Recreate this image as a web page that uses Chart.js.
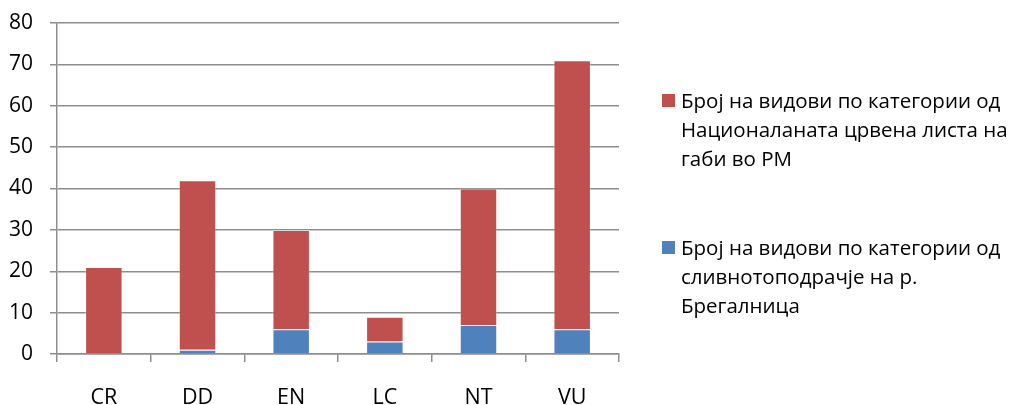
<!DOCTYPE html>
<html>
<head>
<meta charset="utf-8">
<script src="https://cdn.jsdelivr.net/npm/chart.js@4"></script>
<style>
    html, body { margin: 0; padding: 0; background: #fff; }
    #wrap { position: relative; width: 1011px; height: 405px; }
    #chart { position: absolute; left: 0; top: 0; }
    .legend-item { position: absolute; left: 662px; font-family: "Open Sans", sans-serif; font-size: 20.5px; line-height: 29px; color: #000; }
    .legend-item .box { position: absolute; left: 0; top: 8px; width: 13px; height: 13px; }
    .legend-item .txt { position: absolute; left: 19px; top: 0; white-space: nowrap; }
</style>
</head>
<body>
<div id="wrap">
    <canvas id="chart" width="1011" height="405"></canvas>
    <div class="legend-item" id="legRed" style="top: 86px;"><span class="box"></span><span class="txt"></span></div>
    <div class="legend-item" id="legBlue" style="top: 233px;"><span class="box"></span><span class="txt"></span></div>
</div>
<script>
// Categories of the red list
const categories = ['CR', 'DD', 'EN', 'LC', 'NT', 'VU'];

// Species counts per category (Bregalnica basin, stacked at the bottom)
const bregalnicaCounts = [0, 1, 6, 3, 7, 6];
// National red list segment stacked on top
const nationalCounts = [21, 41, 24, 6, 33, 65];

const yTicks = [0, 10, 20, 30, 40, 50, 60, 70, 80];

const nationalLabel = ['Број на видови по категории од', 'Националаната црвена листа на', 'габи во РМ'];
const bregalnicaLabel = ['Број на видови по категории од', 'сливнотоподрачје на р.', 'Брегалница'];

const RED = '#C0504D';
const BLUE = '#4F81BD';
const GRID = '#8e8e8e';

// HTML legend (multi-line labels)
function fillLegend(id, color, lines) {
    const el = document.getElementById(id);
    el.querySelector('.box').style.background = color;
    el.querySelector('.txt').innerHTML = lines.join('<br>');
}
fillLegend('legRed', RED, nationalLabel);
fillLegend('legBlue', BLUE, bregalnicaLabel);

const ctx = document.getElementById('chart');
new Chart(ctx, {
    type: 'bar',
    data: {
        labels: categories,
        datasets: [
            {
                label: bregalnicaLabel.join(' '),
                data: bregalnicaCounts,
                backgroundColor: BLUE,
                borderColor: 'rgba(255,255,255,0.3)',
                borderWidth: 1,
                barPercentage: 0.4,
                categoryPercentage: 1
            },
            {
                label: nationalLabel.join(' '),
                data: nationalCounts,
                backgroundColor: RED,
                borderColor: 'rgba(255,255,255,0.3)',
                borderWidth: 1,
                barPercentage: 0.4,
                categoryPercentage: 1
            }
        ]
    },
    options: {
        responsive: false,
        animation: false,
        layout: {
            padding: { top: 23, right: 392, left: 0, bottom: 0 }
        },
        plugins: {
            legend: { display: false },
            tooltip: { enabled: false }
        },
        scales: {
            x: {
                stacked: true,
                grid: {
                    offset: true,
                    drawOnChartArea: false,
                    drawTicks: true,
                    tickLength: 8,
                    color: GRID,
                    lineWidth: 1.5
                },
                border: { color: GRID, width: 1.5 },
                ticks: {
                    color: '#000',
                    padding: 23,
                    font: { family: 'Open Sans', size: 21.5 }
                },
                afterFit: function(scale) {
                    scale.height = 51;
                    scale.paddingLeft = 0;
                    scale.paddingRight = 0;
                }
            },
            y: {
                stacked: true,
                min: 0,
                max: 80,
                afterBuildTicks: function(scale) {
                    scale.ticks = yTicks.map(v => ({ value: v }));
                },
                grid: {
                    color: GRID,
                    lineWidth: 1.5,
                    drawTicks: true,
                    tickLength: 7
                },
                border: { color: GRID, width: 1.5 },
                ticks: {
                    color: '#000',
                    padding: 17,
                    font: { family: 'Open Sans', size: 21 }
                },
                afterFit: function(scale) {
                    scale.width = 57;
                    scale.paddingTop = 0;
                    scale.paddingBottom = 0;
                }
            }
        }
    }
});
</script>
</body>
</html>
